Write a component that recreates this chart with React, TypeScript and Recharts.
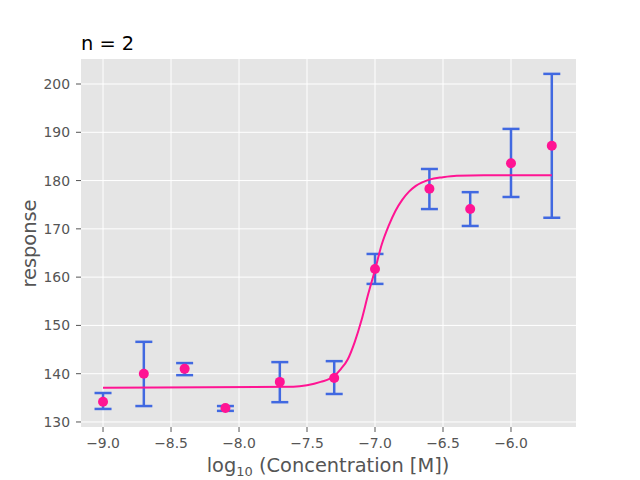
import { ComposedChart, Scatter, ErrorBar, XAxis, YAxis, CartesianGrid } from 'recharts';

const doseX = [-9.0, -8.7, -8.4, -8.1, -7.7, -7.3, -7.0, -6.6, -6.3, -6.0, -5.7];
const meanY = [134.2, 140.0, 141.0, 132.9, 138.3, 139.1, 161.7, 178.3, 174.1, 183.6, 187.2];
const lowY = [132.7, 133.3, 139.7, 132.3, 134.1, 135.8, 158.6, 174.1, 170.6, 176.6, 172.3];
const highY = [136.0, 146.6, 142.2, 133.3, 142.4, 142.6, 164.8, 182.4, 177.6, 190.7, 202.1];

// fitted curve
const fitX = [-9.0, -7.6, -7.5, -7.4, -7.3, -7.25, -7.2, -7.15, -7.1, -7.05, -7.0, -6.95, -6.9, -6.85, -6.8, -6.75, -6.7, -6.6, -6.5, -6.4, -6.2, -5.7];
const fitY = [137.1, 137.3, 137.6, 138.3, 139.5, 141.0, 143.0, 146.5, 151.0, 156.5, 161.5, 166.8, 170.6, 173.7, 176.0, 177.7, 178.9, 180.2, 180.7, 181.0, 181.1, 181.1];

const xTicks = [-9.0, -8.5, -8.0, -7.5, -7.0, -6.5, -6.0];
const yTicks = [130, 140, 150, 160, 170, 180, 190, 200];

const points = doseX.map((x, i) => ({
  x,
  y: meanY[i],
  err: [meanY[i] - lowY[i], highY[i] - meanY[i]],
}));
const fit = fitX.map((x, i) => ({ x, y: fitY[i] }));

const font = '"DejaVu Sans", sans-serif';
const tickStyle = { fill: '#555', fontSize: 13.9, fontFamily: font };

const Dot = (props: any) => <circle cx={props.cx} cy={props.cy} r={5} fill="#ff1493" />;

export default function App() {
  return (
    <div style={{ position: 'absolute', left: 0, top: 0, width: 640, height: 480, background: '#fff' }}>
      <ComposedChart width={640} height={480} margin={{ top: 59, right: 64, left: 0, bottom: 0 }}>
        <CartesianGrid fill="#e5e5e5" stroke="#fff" strokeWidth={1} horizontalValues={yTicks} verticalValues={xTicks} />
        <XAxis
          type="number"
          dataKey="x"
          domain={[-9.162, -5.522]}
          ticks={xTicks}
          tickFormatter={(v: number) => v.toFixed(1).replace('-', '\u2212')}
          tick={tickStyle}
          tickLine={{ stroke: '#555' }}
          tickSize={5}
          tickMargin={6}
          axisLine={false}
          height={53}
          allowDataOverflow
          label={{
            content: () => (
              <text x={328} y={472} textAnchor="middle" fill="#555" fontSize={19.4} fontFamily={font}>
                log
                <tspan fontSize={13} dy={4}>10</tspan>
                <tspan dy={-4}> (Concentration [M])</tspan>
              </text>
            ),
          }}
        />
        <YAxis
          type="number"
          domain={[128.96, 205.18]}
          ticks={yTicks}
          tick={tickStyle}
          tickLine={{ stroke: '#555' }}
          tickSize={5}
          tickMargin={6}
          axisLine={false}
          width={81}
          allowDataOverflow
          label={{
            content: () => (
              <text x={36} y={243.5} transform="rotate(-90, 36, 243.5)" textAnchor="middle" fill="#555" fontSize={19.4} fontFamily={font}>
                response
              </text>
            ),
          }}
        />
        <Scatter
          data={fit}
          dataKey="y"
          line={{ stroke: '#ff1493', strokeWidth: 2 }}
          lineJointType="monotoneX"
          shape={() => <g />}
          isAnimationActive={false}
        />
        <Scatter data={points} dataKey="y" shape={Dot} isAnimationActive={false}>
          <ErrorBar dataKey="err" direction="y" stroke="#4169e1" strokeWidth={2.5} width={8.5} />
        </Scatter>
        <text x={81} y={50} fill="#000" fontSize={19.4} fontFamily={font}>
          n = 2
        </text>
      </ComposedChart>
    </div>
  );
}
